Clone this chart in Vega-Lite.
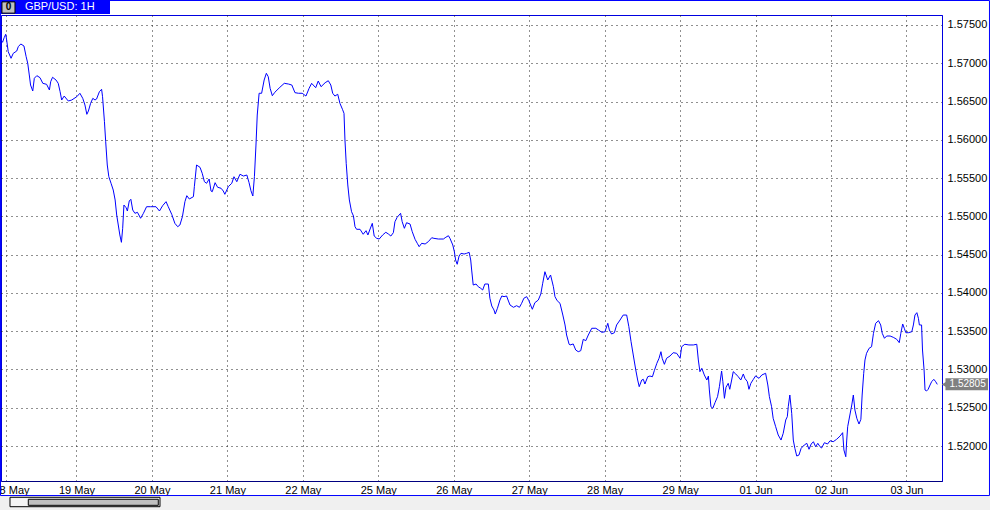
{
  "$schema": "https://vega.github.io/schema/vega-lite/v6.json",
  "autosize": {"type": "none"},
  "padding": {"left": 1, "top": 15, "right": 48, "bottom": 29},
  "width": 941,
  "height": 466,
  "background": "#ffffff",
  "config": {
    "view": {"stroke": "#0000e0", "strokeWidth": 1},
    "font": "Liberation Sans"
  },
  "datasets": {
    "price": [
{"bar":0,"price":1.57304},{"bar":0.5,"price":1.57274},{"bar":1.0,"price":1.57334},{"bar":1.5,"price":1.57379},{"bar":1.8,"price":1.57304},{"bar":2.3,"price":1.57151},{"bar":3.2,"price":1.57065},{"bar":3.9,"price":1.5713},{"bar":5.0,"price":1.5716},{"bar":5.5,"price":1.57217},{"bar":6.3,"price":1.57252},{"bar":7.3,"price":1.57226},{"bar":8.0,"price":1.57086},{"bar":8.5,"price":1.570},{"bar":9.0,"price":1.56847},{"bar":9.4,"price":1.56716},{"bar":10.1,"price":1.56638},{"bar":10.6,"price":1.56804},{"bar":11.4,"price":1.56838},{"bar":12.4,"price":1.56812},{"bar":13.3,"price":1.56738},{"bar":14.5,"price":1.56725},{"bar":15.4,"price":1.56651},{"bar":15.8,"price":1.56759},{"bar":16.4,"price":1.56817},{"bar":17.5,"price":1.56781},{"bar":18.2,"price":1.56738},{"bar":18.8,"price":1.56629},{"bar":19.3,"price":1.5652},{"bar":20.1,"price":1.56572},{"bar":21.4,"price":1.56507},{"bar":22.5,"price":1.5652},{"bar":24.1,"price":1.56563},{"bar":25.1,"price":1.56608},{"bar":26.0,"price":1.56542},{"bar":26.7,"price":1.56455},{"bar":27.3,"price":1.56333},{"bar":27.8,"price":1.56376},{"bar":28.5,"price":1.56477},{"bar":29.2,"price":1.56542},{"bar":29.9,"price":1.5652},{"bar":30.4,"price":1.56533},{"bar":31.3,"price":1.56629},{"bar":32.0,"price":1.5666},{"bar":32.3,"price":1.56563},{"bar":32.9,"price":1.56237},{"bar":33.3,"price":1.55975},{"bar":33.8,"price":1.55671},{"bar":34.3,"price":1.55518},{"bar":35.0,"price":1.55432},{"bar":35.7,"price":1.55344},{"bar":36.3,"price":1.55214},{"bar":36.8,"price":1.55018},{"bar":37.3,"price":1.54887},{"bar":37.8,"price":1.54757},{"bar":38.3,"price":1.54661},{"bar":38.7,"price":1.54844},{"bar":39.1,"price":1.55148},{"bar":39.8,"price":1.55113},{"bar":40.2,"price":1.5507},{"bar":40.8,"price":1.55201},{"bar":41.3,"price":1.55223},{"bar":41.9,"price":1.55083},{"bar":42.6,"price":1.5504},{"bar":43.4,"price":1.55053},{"bar":44.4,"price":1.54975},{"bar":45.3,"price":1.5504},{"bar":46.3,"price":1.55126},{"bar":47.6,"price":1.55126},{"bar":49.3,"price":1.55126},{"bar":50.4,"price":1.5507},{"bar":51.4,"price":1.55139},{"bar":52.5,"price":1.55192},{"bar":53.2,"price":1.55126},{"bar":54.3,"price":1.55027},{"bar":55.3,"price":1.54909},{"bar":56.2,"price":1.54865},{"bar":56.9,"price":1.54887},{"bar":57.7,"price":1.54996},{"bar":58.5,"price":1.55192},{"bar":59.1,"price":1.5527},{"bar":59.9,"price":1.55227},{"bar":61.2,"price":1.55257},{"bar":61.5,"price":1.55388},{"bar":62.2,"price":1.55671},{"bar":63.3,"price":1.55641},{"bar":64.0,"price":1.55563},{"bar":64.7,"price":1.55453},{"bar":65.4,"price":1.55432},{"bar":66.2,"price":1.55488},{"bar":66.8,"price":1.55331},{"bar":67.2,"price":1.55322},{"bar":68.1,"price":1.5544},{"bar":68.9,"price":1.5538},{"bar":70.0,"price":1.55367},{"bar":70.7,"price":1.55331},{"bar":71.2,"price":1.55288},{"bar":72.3,"price":1.55388},{"bar":73.4,"price":1.55432},{"bar":74.1,"price":1.55518},{"bar":75.0,"price":1.55453},{"bar":76.0,"price":1.5555},{"bar":77.1,"price":1.55527},{"bar":78.2,"price":1.5554},{"bar":78.9,"price":1.5544},{"bar":79.5,"price":1.55335},{"bar":80.1,"price":1.55266},{"bar":80.6,"price":1.55518},{"bar":81.1,"price":1.55932},{"bar":81.5,"price":1.56324},{"bar":82.1,"price":1.56608},{"bar":82.9,"price":1.56608},{"bar":83.7,"price":1.56781},{"bar":84.4,"price":1.56869},{"bar":85.0,"price":1.56825},{"bar":85.6,"price":1.56673},{"bar":86.3,"price":1.56576},{"bar":87.1,"price":1.56621},{"bar":88.7,"price":1.56686},{"bar":90.1,"price":1.56738},{"bar":91.4,"price":1.56729},{"bar":92.5,"price":1.56716},{"bar":93.5,"price":1.56616},{"bar":94.6,"price":1.56608},{"bar":95.8,"price":1.56608},{"bar":97.0,"price":1.56572},{"bar":98.0,"price":1.56673},{"bar":98.8,"price":1.56738},{"bar":99.3,"price":1.56716},{"bar":100.1,"price":1.56681},{"bar":100.9,"price":1.56768},{"bar":101.8,"price":1.56694},{"bar":103.1,"price":1.56746},{"bar":104.1,"price":1.56772},{"bar":104.9,"price":1.56716},{"bar":105.5,"price":1.56608},{"bar":106.2,"price":1.56572},{"bar":107.1,"price":1.56595},{"bar":107.8,"price":1.56477},{"bar":108.6,"price":1.56399},{"bar":109.1,"price":1.56346},{"bar":109.4,"price":1.55998},{"bar":109.8,"price":1.55693},{"bar":110.3,"price":1.5541},{"bar":110.8,"price":1.55214},{"bar":111.5,"price":1.55061},{"bar":112.1,"price":1.55005},{"bar":112.6,"price":1.54865},{"bar":113.1,"price":1.54831},{"bar":114.2,"price":1.54831},{"bar":115.2,"price":1.54766},{"bar":116.1,"price":1.54813},{"bar":116.7,"price":1.54757},{"bar":117.4,"price":1.54835},{"bar":118.1,"price":1.54909},{"bar":118.7,"price":1.54743},{"bar":119.5,"price":1.54713},{"bar":120.3,"price":1.54704},{"bar":121.4,"price":1.54757},{"bar":122.4,"price":1.54792},{"bar":123.2,"price":1.5477},{"bar":124.0,"price":1.54743},{"bar":124.8,"price":1.54787},{"bar":125.3,"price":1.5493},{"bar":126.0,"price":1.54988},{"bar":127.1,"price":1.5504},{"bar":127.6,"price":1.5493},{"bar":128.3,"price":1.54844},{"bar":129.0,"price":1.54917},{"bar":130.1,"price":1.549},{"bar":130.8,"price":1.548},{"bar":131.7,"price":1.547},{"bar":132.4,"price":1.54648},{"bar":133.0,"price":1.54604},{"bar":133.8,"price":1.54648},{"bar":134.9,"price":1.54639},{"bar":135.9,"price":1.54669},{"bar":137.0,"price":1.54721},{"bar":137.7,"price":1.54713},{"bar":139.1,"price":1.54704},{"bar":140.7,"price":1.54704},{"bar":141.5,"price":1.54727},{"bar":142.3,"price":1.54747},{"bar":142.8,"price":1.54713},{"bar":143.7,"price":1.54626},{"bar":144.2,"price":1.54538},{"bar":144.6,"price":1.5443},{"bar":145.1,"price":1.54374},{"bar":145.7,"price":1.54482},{"bar":146.3,"price":1.54517},{"bar":147.3,"price":1.54508},{"bar":148.1,"price":1.54517},{"bar":148.9,"price":1.5453},{"bar":149.4,"price":1.5443},{"bar":149.7,"price":1.54299},{"bar":150.2,"price":1.54103},{"bar":151.1,"price":1.54116},{"bar":151.8,"price":1.54081},{"bar":152.6,"price":1.5406},{"bar":153.2,"price":1.54038},{"bar":153.9,"price":1.54116},{"bar":155.0,"price":1.54116},{"bar":155.5,"price":1.5393},{"bar":156.1,"price":1.53829},{"bar":156.8,"price":1.53777},{"bar":157.2,"price":1.53724},{"bar":157.9,"price":1.53799},{"bar":158.7,"price":1.53907},{"bar":159.3,"price":1.5396},{"bar":160.0,"price":1.53951},{"bar":160.8,"price":1.5396},{"bar":161.4,"price":1.53894},{"bar":161.9,"price":1.53842},{"bar":163.0,"price":1.53812},{"bar":164.0,"price":1.53833},{"bar":164.9,"price":1.53812},{"bar":165.6,"price":1.53864},{"bar":166.3,"price":1.5393},{"bar":167.2,"price":1.53951},{"bar":167.9,"price":1.53898},{"bar":169.0,"price":1.53786},{"bar":169.8,"price":1.53872},{"bar":170.9,"price":1.53907},{"bar":171.7,"price":1.53986},{"bar":172.3,"price":1.54126},{"bar":173.0,"price":1.54277},{"bar":173.9,"price":1.54169},{"bar":174.8,"price":1.54234},{"bar":175.7,"price":1.54081},{"bar":176.2,"price":1.53951},{"bar":176.9,"price":1.53898},{"bar":177.8,"price":1.53864},{"bar":178.7,"price":1.53711},{"bar":179.4,"price":1.53581},{"bar":179.9,"price":1.5345},{"bar":180.7,"price":1.53329},{"bar":181.0,"price":1.5332},{"bar":182.0,"price":1.53333},{"bar":182.8,"price":1.53254},{"bar":183.6,"price":1.53232},{"bar":184.4,"price":1.53245},{"bar":185.2,"price":1.53394},{"bar":186.0,"price":1.53376},{"bar":186.8,"price":1.5345},{"bar":187.9,"price":1.53538},{"bar":189.2,"price":1.53538},{"bar":190.0,"price":1.53516},{"bar":191.1,"price":1.53485},{"bar":192.1,"price":1.53493},{"bar":193.0,"price":1.53603},{"bar":193.5,"price":1.53516},{"bar":194.2,"price":1.53463},{"bar":195.1,"price":1.5348},{"bar":195.8,"price":1.53581},{"bar":196.9,"price":1.53646},{"bar":197.9,"price":1.53711},{"bar":199.0,"price":1.53711},{"bar":199.7,"price":1.53559},{"bar":200.4,"price":1.53363},{"bar":201.1,"price":1.53189},{"bar":201.9,"price":1.52993},{"bar":202.5,"price":1.52862},{"bar":203.0,"price":1.52775},{"bar":203.8,"price":1.52862},{"bar":204.3,"price":1.52871},{"bar":204.8,"price":1.5281},{"bar":205.7,"price":1.52905},{"bar":206.4,"price":1.52914},{"bar":207.2,"price":1.52905},{"bar":207.8,"price":1.52984},{"bar":208.6,"price":1.5308},{"bar":209.3,"price":1.53146},{"bar":209.9,"price":1.53232},{"bar":210.3,"price":1.53146},{"bar":211.0,"price":1.53067},{"bar":211.7,"price":1.53146},{"bar":212.8,"price":1.53176},{"bar":213.8,"price":1.53219},{"bar":214.9,"price":1.53211},{"bar":216.0,"price":1.53146},{"bar":216.5,"price":1.53297},{"bar":217.5,"price":1.53329},{"bar":218.8,"price":1.5332},{"bar":220.2,"price":1.5332},{"bar":221.3,"price":1.53329},{"bar":221.8,"price":1.53124},{"bar":222.3,"price":1.52971},{"bar":222.9,"price":1.53015},{"bar":223.7,"price":1.52928},{"bar":224.5,"price":1.52862},{"bar":225.0,"price":1.52914},{"bar":225.3,"price":1.52732},{"bar":225.8,"price":1.52513},{"bar":226.4,"price":1.52493},{"bar":227.1,"price":1.52566},{"bar":227.9,"price":1.52644},{"bar":228.5,"price":1.52775},{"bar":229.2,"price":1.5298},{"bar":229.6,"price":1.5284},{"bar":230.1,"price":1.52623},{"bar":230.6,"price":1.52767},{"bar":231.3,"price":1.52819},{"bar":231.8,"price":1.52741},{"bar":232.4,"price":1.52862},{"bar":232.9,"price":1.52971},{"bar":233.7,"price":1.52941},{"bar":234.5,"price":1.52905},{"bar":235.3,"price":1.52862},{"bar":236.1,"price":1.52941},{"bar":236.6,"price":1.52884},{"bar":237.4,"price":1.5284},{"bar":237.9,"price":1.52741},{"bar":238.5,"price":1.52819},{"bar":239.3,"price":1.52871},{"bar":240.0,"price":1.52915},{"bar":241.1,"price":1.52884},{"bar":242.0,"price":1.52928},{"bar":243.2,"price":1.5295},{"bar":243.9,"price":1.52797},{"bar":244.4,"price":1.52644},{"bar":245.1,"price":1.52513},{"bar":245.6,"price":1.52362},{"bar":246.4,"price":1.52252},{"bar":247.2,"price":1.52144},{"bar":248.1,"price":1.52078},{"bar":248.8,"price":1.52166},{"bar":249.6,"price":1.5234},{"bar":250.1,"price":1.52383},{"bar":250.4,"price":1.52513},{"bar":250.9,"price":1.52666},{"bar":251.5,"price":1.52427},{"bar":252.0,"price":1.52078},{"bar":252.5,"price":1.5197},{"bar":253.1,"price":1.51869},{"bar":253.8,"price":1.51882},{"bar":254.5,"price":1.5197},{"bar":255.5,"price":1.52013},{"bar":256.3,"price":1.52035},{"bar":257.0,"price":1.51957},{"bar":257.7,"price":1.52026},{"bar":258.4,"price":1.52056},{"bar":259.1,"price":1.51991},{"bar":259.8,"price":1.52035},{"bar":260.5,"price":1.51991},{"bar":261.0,"price":1.51974},{"bar":261.9,"price":1.52043},{"bar":262.9,"price":1.52026},{"bar":263.7,"price":1.52069},{"bar":264.7,"price":1.52056},{"bar":265.8,"price":1.52088},{"bar":266.9,"price":1.52131},{"bar":267.7,"price":1.52174},{"bar":268.1,"price":1.51948},{"bar":268.7,"price":1.5186},{"bar":269.0,"price":1.52078},{"bar":269.3,"price":1.52252},{"bar":270.0,"price":1.52405},{"bar":270.6,"price":1.52536},{"bar":271.1,"price":1.52666},{"bar":271.6,"price":1.5247},{"bar":272.2,"price":1.52362},{"bar":272.9,"price":1.52287},{"bar":273.5,"price":1.52349},{"bar":273.9,"price":1.52666},{"bar":274.4,"price":1.5295},{"bar":274.8,"price":1.53124},{"bar":275.3,"price":1.53211},{"bar":276.1,"price":1.53276},{"bar":276.9,"price":1.53297},{"bar":277.5,"price":1.53472},{"bar":278.2,"price":1.53603},{"bar":279.1,"price":1.53637},{"bar":279.8,"price":1.53581},{"bar":280.3,"price":1.53472},{"bar":281.0,"price":1.53407},{"bar":281.7,"price":1.53437},{"bar":282.8,"price":1.53437},{"bar":283.8,"price":1.5342},{"bar":284.9,"price":1.53394},{"bar":285.7,"price":1.5335},{"bar":286.2,"price":1.53472},{"bar":286.8,"price":1.53594},{"bar":287.3,"price":1.53538},{"bar":287.8,"price":1.5348},{"bar":288.6,"price":1.5348},{"bar":289.7,"price":1.53493},{"bar":290.2,"price":1.53581},{"bar":290.7,"price":1.53711},{"bar":291.3,"price":1.53742},{"bar":291.8,"price":1.53668},{"bar":292.1,"price":1.53581},{"bar":292.8,"price":1.53581},{"bar":293.1,"price":1.53254},{"bar":293.6,"price":1.52993},{"bar":293.9,"price":1.52732},{"bar":294.4,"price":1.52719},{"bar":294.9,"price":1.52741},{"bar":295.5,"price":1.52797},{"bar":296.0,"price":1.5284},{"bar":296.7,"price":1.52871},{"bar":297.3,"price":1.5284},{"bar":297.8,"price":1.52805}
    ]
  },
  "layer": [
    {
      "data": {"name": "price"},
      "mark": {"type": "line", "color": "#0000ff", "strokeWidth": 1, "clip": true},
      "encoding": {
        "x": {
          "field": "bar", "type": "quantitative",
          "scale": {"domain": [0, 299.3], "nice": false, "zero": false},
          "axis": {
            "title": null, "orient": "bottom",
            "values": [1.6, 24, 48, 72, 96, 120, 144, 168, 192, 216, 240, 264, 288],
            "labelExpr": "datum.value < 12 ? '18 May' : ['', '19 May', '20 May', '21 May', '22 May', '25 May', '26 May', '27 May', '28 May', '29 May', '01 Jun', '02 Jun', '03 Jun'][round(datum.value / 24)]",
            "ticks": false, "labelPadding": 3, "labelBaseline": "top", "labelDx": 3,
            "labelOffset": {"condition": {"test": "datum.value < 12", "value": 5}, "value": 0},
            "labelFont": "Liberation Sans", "labelFontSize": 11, "labelColor": "#000000",
            "labelBound": false, "labelOverlap": false, "labelFlush": false,
            "domainColor": "#000080", "domainWidth": 1,
            "grid": true, "gridColor": "#202020", "gridDash": [1, 4], "gridWidth": 1
          }
        },
        "y": {
          "field": "price", "type": "quantitative",
          "scale": {"domain": [1.515428, 1.576306], "nice": false, "zero": false},
          "axis": {
            "title": null, "orient": "right",
            "values": [1.52, 1.525, 1.53, 1.535, 1.54, 1.545, 1.55, 1.555, 1.56, 1.565, 1.57, 1.575],
            "format": ".5f",
            "ticks": false, "labelPadding": 5, "labelBaseline": "middle",
            "labelFont": "Liberation Sans", "labelFontSize": 11, "labelColor": "#000000",
            "labelBound": false, "labelOverlap": false, "labelFlush": false,
            "domainColor": "#0000e0",
            "grid": true, "gridColor": "#202020", "gridDash": [1, 4], "gridWidth": 1
          }
        }
      }
    },
    {
      "data": {"values": [{}]},
      "mark": {"type": "rect", "color": "#0000ff", "clip": false},
      "encoding": {
        "x": {"datum": -0.4, "type": "quantitative"},
        "x2": {"datum": 34.67},
        "y": {"datum": 1.57830, "type": "quantitative"},
        "y2": {"datum": 1.57644}
      }
    },
    {
      "data": {"values": [{}]},
      "mark": {"type": "rect", "fill": "#c0c0c0", "stroke": "#000000", "strokeWidth": 1, "clip": false},
      "encoding": {
        "x": {"datum": 0.3, "type": "quantitative"},
        "x2": {"datum": 4.45},
        "y": {"datum": 1.57802, "type": "quantitative"},
        "y2": {"datum": 1.57655}
      }
    },
    {
      "data": {"values": [{}]},
      "mark": {"type": "text", "text": "0", "font": "Liberation Sans", "fontSize": 10, "fontWeight": "bold", "color": "#000000", "align": "center", "baseline": "middle", "clip": false},
      "encoding": {
        "x": {"datum": 2.4, "type": "quantitative"},
        "y": {"datum": 1.57729, "type": "quantitative"}
      }
    },
    {
      "data": {"values": [{}]},
      "mark": {"type": "text", "text": "GBP/USD: 1H", "font": "Liberation Sans", "fontSize": 11, "color": "#ffffff", "align": "left", "baseline": "middle", "clip": false},
      "encoding": {
        "x": {"datum": 7.6, "type": "quantitative"},
        "y": {"datum": 1.57732, "type": "quantitative"}
      }
    },
    {
      "data": {"values": [{}]},
      "mark": {"type": "rect", "color": "#808080", "clip": false},
      "encoding": {
        "x": {"datum": 300.4, "type": "quantitative"},
        "x2": {"datum": 313.95},
        "y": {"datum": 1.52884, "type": "quantitative"},
        "y2": {"datum": 1.52727}
      }
    },
    {
      "data": {"values": [{}]},
      "mark": {"type": "point", "shape": "triangle-left", "filled": true, "color": "#808080", "size": 50, "opacity": 1, "clip": false},
      "encoding": {
        "x": {"datum": 300.2, "type": "quantitative"},
        "y": {"datum": 1.52805, "type": "quantitative"}
      }
    },
    {
      "data": {"values": [{}]},
      "mark": {"type": "text", "text": "1.52805", "font": "Liberation Sans", "fontSize": 10, "color": "#ffffff", "align": "left", "baseline": "middle", "clip": false},
      "encoding": {
        "x": {"datum": 301.7, "type": "quantitative"},
        "y": {"datum": 1.52805, "type": "quantitative"}
      }
    },
    {
      "data": {"values": [{}]},
      "mark": {"type": "rect", "fill": "#f0f0f0", "clip": false},
      "encoding": {
        "x": {"datum": -1, "type": "quantitative"},
        "x2": {"datum": 316},
        "y": {"datum": 1.51360, "type": "quantitative"},
        "y2": {"datum": 1.51150}
      }
    },
    {
      "data": {"values": [{}]},
      "mark": {"type": "rect", "fill": "#f4f4f4", "stroke": "#000000", "strokeWidth": 1, "clip": false},
      "encoding": {
        "x": {"datum": 2.86, "type": "quantitative"},
        "x2": {"datum": 50.57},
        "y": {"datum": 1.51330, "type": "quantitative"},
        "y2": {"datum": 1.51207}
      }
    },
    {
      "data": {"values": [{}]},
      "mark": {"type": "rect", "fill": "#c0c0c0", "stroke": "#000000", "strokeWidth": 1, "clip": false},
      "encoding": {
        "x": {"datum": 8.68, "type": "quantitative"},
        "x2": {"datum": 50.03},
        "y": {"datum": 1.51304, "type": "quantitative"},
        "y2": {"datum": 1.51225}
      }
    },
    {
      "data": {"values": [{}]},
      "mark": {"type": "rect", "fill": null, "fillOpacity": 0, "stroke": "#0000ff", "strokeWidth": 1, "clip": false},
      "encoding": {
        "x": {"datum": -0.16, "type": "quantitative"},
        "x2": {"datum": 314.4},
        "y": {"datum": 1.57820, "type": "quantitative"},
        "y2": {"datum": 1.51353}
      }
    }
  ]
}
